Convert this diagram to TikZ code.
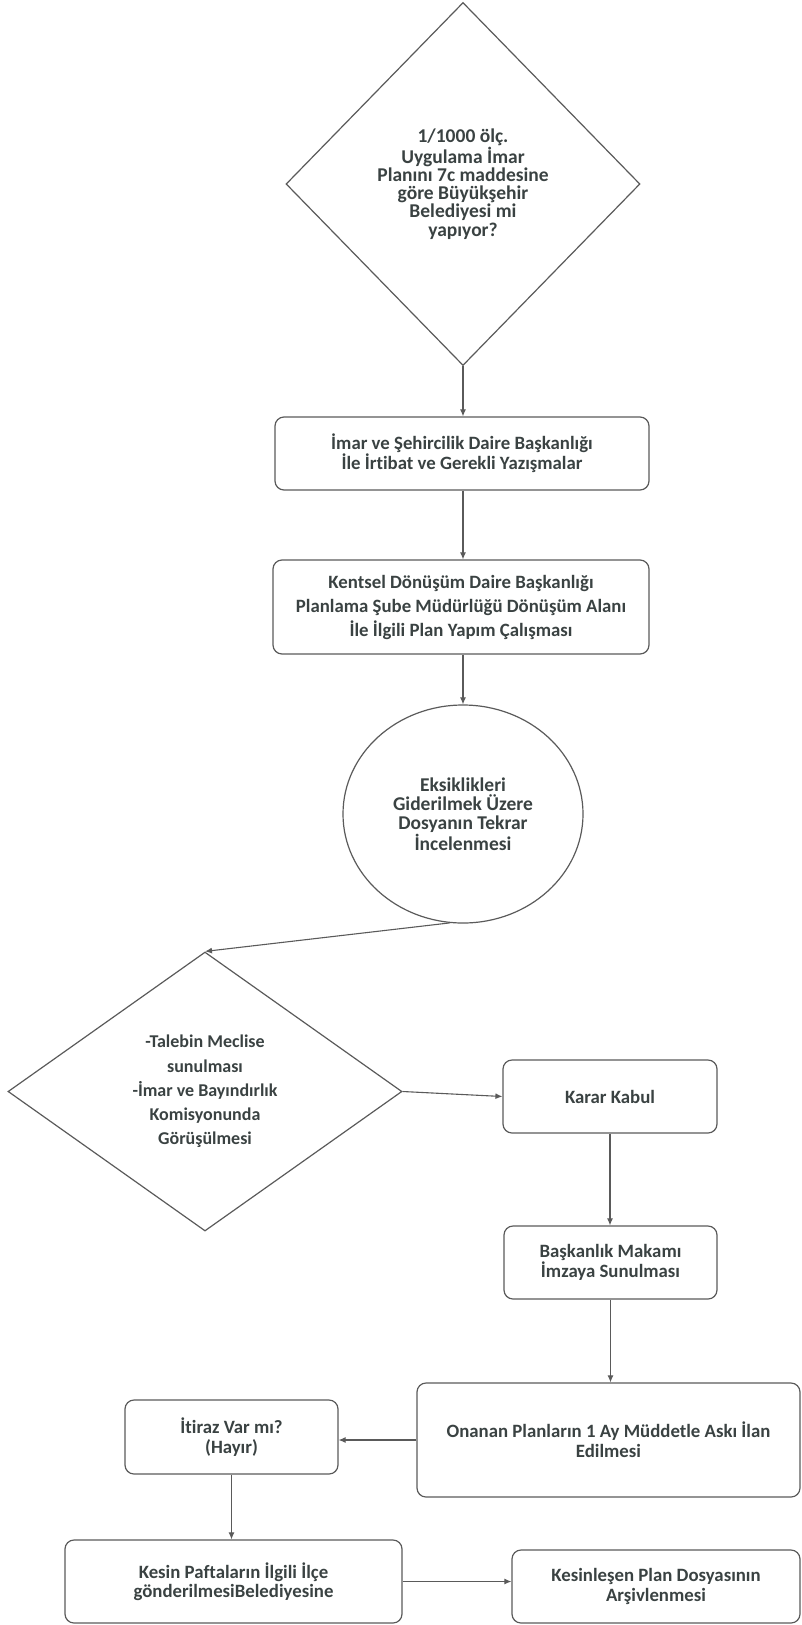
\documentclass[tikz,border=0pt]{standalone}
\usepackage{fontspec}
\setmainfont{Carlito}[Ligatures=NoCommon]
\usetikzlibrary{shapes.geometric,arrows.meta}
\definecolor{linegray}{HTML}{5A5A5A}
\definecolor{textgray}{HTML}{3A4242}
\begin{document}
\begin{tikzpicture}[x=1pt,y=-1pt,
  every node/.style={font=\bfseries\fontsize{18.8}{20}\selectfont, text=textgray, align=center, inner sep=0pt},
  procbox/.style={draw=linegray, line width=1.2pt, rounded corners=9pt, rectangle},
  decision/.style={draw=linegray, line width=1.2pt, diamond},
  review/.style={draw=linegray, line width=1.2pt, ellipse},
  conn/.style={draw=linegray, line width=1.1pt, -{Latex[length=7pt,width=6pt]}}
]
\useasboundingbox (0,0) rectangle (802,1625);

\node[decision, minimum width=354pt, minimum height=363pt,
  font=\bfseries\fontsize{19.5}{18.3}\selectfont] (d1) at (463,184)
  {1/1000 ölç.\\Uygulama İmar\\Planını 7c maddesine\\göre Büyükşehir\\Belediyesi mi\\yapıyor?};

\node[procbox, minimum width=374pt, minimum height=73pt,
  font=\bfseries\fontsize{18.8}{18.3}\selectfont] (b1) at (462,453.5)
  {İmar ve Şehircilik Daire Başkanlığı\\İle İrtibat ve Gerekli Yazışmalar};

\node[procbox, minimum width=376pt, minimum height=94pt,
  font=\bfseries\fontsize{18.8}{24}\selectfont] (b2) at (461,607)
  {Kentsel Dönüşüm Daire Başkanlığı\\Planlama Şube Müdürlüğü Dönüşüm Alanı\\İle İlgili Plan Yapım Çalışması};

\node[review, minimum width=240pt, minimum height=218pt,
  font=\bfseries\fontsize{19.5}{19.2}\selectfont] (e1) at (463,814)
  {Eksiklikleri\\Giderilmek Üzere\\Dosyanın Tekrar\\İncelenmesi};

\node[decision, minimum width=394pt, minimum height=279pt,
  font=\bfseries\fontsize{18}{24.3}\selectfont] (d2) at (205,1091.5)
  {-Talebin Meclise\\sunulması\\-İmar ve Bayındırlık\\Komisyonunda\\Görüşülmesi};

\node[procbox, minimum width=214pt, minimum height=73pt] (kk) at (610,1096.5) {Karar Kabul};

\node[procbox, minimum width=213pt, minimum height=73pt] (bm) at (610.5,1262.5)
  {Başkanlık Makamı\\İmzaya Sunulması};

\node[procbox, minimum width=383pt, minimum height=114pt] (on) at (608.5,1440)
  {Onanan Planların 1 Ay Müddetle Askı İlan\\Edilmesi};

\node[procbox, minimum width=213pt, minimum height=74pt] (it) at (231.5,1437)
  {İtiraz Var mı?\\(Hayır)};

\node[procbox, minimum width=337pt, minimum height=83pt,
  font=\bfseries\fontsize{18.8}{19}\selectfont] (ke) at (233.5,1581.5)
  {Kesin Paftaların İlgili İlçe\\gönderilmesiBelediyesine};

\node[procbox, minimum width=288pt, minimum height=73pt] (ks) at (656,1586.5)
  {Kesinleşen Plan Dosyasının\\Arşivlenmesi};

\draw[conn] (d1.south) -- (b1.north -| d1.south);
\draw[conn] (b1.south -| d1.south) -- (b2.north -| d1.south);
\draw[conn] (b2.south -| e1.north) -- (e1.north);
\draw[conn] (e1.263) -- (d2.north);
\draw[conn] (d2.east) -- (kk.west);
\draw[conn] (kk.south) -- (bm.north -| kk.south);
\draw[conn] (bm.south) -- (on.north -| bm.south);
\draw[conn] (on.west) -- (on.west -| it.east);
\draw[conn] (it.south) -- (ke.north -| it.south);
\draw[conn] (ke.east) -- (ke.east -| ks.west);
\end{tikzpicture}
\end{document}
